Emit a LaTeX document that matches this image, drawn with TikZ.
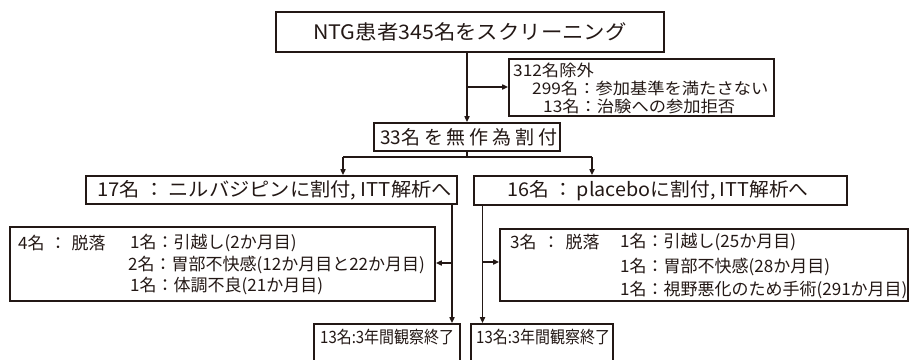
\documentclass[tikz,border=0pt]{standalone}
\usepackage{fontspec}
\usepackage{graphicx}
\setmainfont{Noto Sans CJK JP}
\newcommand{\ls}[1]{\addfontfeature{LetterSpace=#1}}
\newcommand{\wc}{\hspace{4pt}：\hspace{4pt}}
\usetikzlibrary{arrows.meta}
\definecolor{ink}{RGB}{35,24,21}
\tikzset{
  box/.style={draw=ink, line width=1.6pt, inner sep=0pt},
  txt/.style={text=ink, inner sep=0pt, anchor=west},
  ln/.style={draw=ink, line width=1.6pt},
  arr/.style={draw=ink, line width=1.6pt, -{Triangle[length=6pt,width=5pt]}},
}
\begin{document}
\begin{tikzpicture}[x=1pt,y=-1pt]
\useasboundingbox (0,0) rectangle (909,359);
\clip (0,0) rectangle (909,359);
% boxes
\node[box, minimum width=388pt, minimum height=40pt] (top) at (470,32) {};
\node[box, minimum width=265pt, minimum height=57pt] (excl) at (641.5,87.5) {};
\node[box, minimum width=186pt, minimum height=28pt] (rand) at (467,137) {};
\node[box, minimum width=371pt, minimum height=28pt] (grpA) at (271.5,190) {};
\node[box, minimum width=373pt, minimum height=29pt] (grpB) at (660.5,190.5) {};
\node[box, minimum width=425pt, minimum height=74pt] (dropA) at (222.5,264) {};
\node[box, minimum width=408pt, minimum height=72pt] (dropB) at (704,265) {};
\node[box, minimum width=146pt, minimum height=60pt] (endA) at (387,354) {};
\node[box, minimum width=142pt, minimum height=60pt] (endB) at (542,354) {};
% texts
\node[txt, font=\fontsize{20}{22}\selectfont] (tTop) at (313,32) {\scalebox{1.07}[1]{NTG患者345名をスクリーニング}};
\node[txt, font=\fontsize{16}{18}\selectfont] (tE1) at (513,70) {\scalebox{1.08}[1]{312名除外}};
\node[txt, font=\fontsize{16}{18}\selectfont] (tE2) at (532,88) {\scalebox{1.08}[1]{299名：参加基準を満たさない}};
\node[txt, font=\fontsize{16}{18}\selectfont] (tE3) at (543,106) {\scalebox{1.08}[1]{13名：治験への参加拒否}};
\node[txt, font=\fontsize{19}{21}\selectfont] (tR) at (380,137) {33{\ls{20}名を無作為割付}};
\node[txt, font=\fontsize{19}{21}\selectfont] (tA) at (97,190) {\scalebox{1.065}[1]{17名\wc ニルバジピンに割付, ITT解析へ}};
\node[txt, font=\fontsize{19}{21}\selectfont] (tB) at (507,190.5) {\scalebox{1.04}[1]{16名\wc placeboに割付, ITT解析へ}};
\node[txt, font=\fontsize{17}{19}\selectfont] (tDA0) at (18,243) {4名\hspace{5pt}：\hspace{5pt}脱落};
\node[txt, font=\fontsize{17}{19}\selectfont] (tDA1) at (130,243) {1名：引越し(2か月目)};
\node[txt, font=\fontsize{17}{19}\selectfont] (tDA2) at (128,265) {2名：胃部不快感(12か月目と22か月目)};
\node[txt, font=\fontsize{17}{19}\selectfont] (tDA3) at (130,286) {1名：体調不良(21か月目)};
\node[txt, font=\fontsize{17}{19}\selectfont] (tDB0) at (510,242) {3名\hspace{6pt}：\hspace{6pt}脱落};
\node[txt, font=\fontsize{17}{19}\selectfont] (tDB1) at (620,242) {1名：引越し(25か月目)};
\node[txt, font=\fontsize{17}{19}\selectfont] (tDB2) at (620,267) {1名：胃部不快感(28か月目)};
\node[txt, font=\fontsize{17}{19}\selectfont] (tDB3) at (620,290) {1名：視野悪化のため手術(291か月目)};
\node[txt, font=\fontsize{17}{19}\selectfont] (tEA) at (320,337) {\scalebox{0.88}[1]{13名:3年間観察終了}};
\node[txt, font=\fontsize{17}{19}\selectfont] (tEB) at (476,337) {\scalebox{0.88}[1]{13名:3年間観察終了}};
% connectors
\coordinate (c1) at (467,87);
\draw[arr] (top.south -| c1) -- (rand.north -| c1);
\draw[arr] (c1) -- (c1 -| excl.west);
\coordinate (hb) at (467,157);
\coordinate (hl) at (343,157);
\coordinate (hr) at (592,157);
\draw[ln] (rand.south -| hb) -- (hb);
\draw[ln] (hl) -- (hr);
\draw[arr] (hl) -- (grpA.north -| hl);
\draw[arr] (hr) -- (grpB.north -| hr);
\coordinate (va) at (452,263);
\coordinate (vb) at (482.5,262);
\draw[arr] (grpA.south -| va) -- (endA.north -| va);
\draw[arr] (va) -- (va -| dropA.east);
\draw[arr] (grpB.south -| vb) -- (endB.north -| vb);
\draw[arr] (vb) -- (vb -| dropB.west);
\end{tikzpicture}
\end{document}
